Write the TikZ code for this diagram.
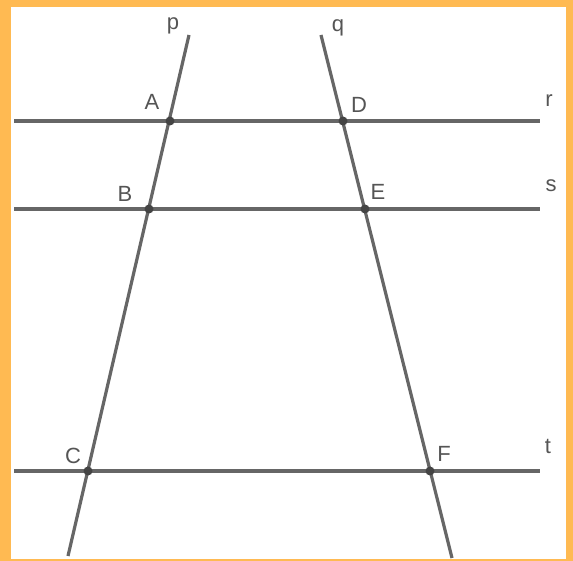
\documentclass[tikz,border=0pt]{standalone}
\usepackage{fontspec}
\setmainfont{Liberation Sans}
\definecolor{frameorange}{HTML}{FFBA52}
\definecolor{linegray}{HTML}{666666}
\definecolor{dotgray}{HTML}{444444}
\definecolor{labelgray}{HTML}{555555}
\begin{document}
\begin{tikzpicture}[
    x=1pt, y=-1pt,
    font=\fontsize{22}{26}\selectfont,
    line/.style={draw=linegray, line width=3.2pt},
    pt/.style={circle, fill=dotgray, inner sep=0pt, minimum size=9pt},
    lbl/.style={anchor=base, text=labelgray, inner sep=0pt}
]

    % 1. Orange frame
    \fill[frameorange] (0,0) rectangle (573,561);
    \fill[white] (11,7) rectangle (566,559);
    \useasboundingbox (0,0) rectangle (573,561);

    % 2. End points of the lines
    \coordinate (ptop) at (189,35);
    \coordinate (pbot) at (68,556);
    \coordinate (qtop) at (321,35);
    \coordinate (qbot) at (452,558);
    \coordinate (rl) at (14,121);
    \coordinate (rr) at (540,121);
    \coordinate (sl) at (14,209);
    \coordinate (sr) at (540,209);
    \coordinate (tl) at (14,471);
    \coordinate (tr) at (540,471);

    % 3. Lines
    \draw[line] (rl) -- (rr);
    \draw[line] (sl) -- (sr);
    \draw[line] (tl) -- (tr);
    \draw[line] (ptop) -- (pbot);
    \draw[line] (qtop) -- (qbot);

    % 4. Intersection points
    \node[pt] (A) at (170,121) {};
    \node[pt] (D) at (343,121) {};
    \node[pt] (B) at (149,209) {};
    \node[pt] (E) at (365,209) {};
    \node[pt] (C) at (88,471) {};
    \node[pt] (F) at (430,471) {};

    % 5. Labels
    \node[lbl] (lA) at (152,110) {A};
    \node[lbl] (lD) at (359,113) {D};
    \node[lbl] (lB) at (125,202) {B};
    \node[lbl] (lE) at (378,200) {E};
    \node[lbl] (lC) at (73,463) {C};
    \node[lbl] (lF) at (444,461) {F};
    \node[lbl] (lp) at (173,30) {p};
    \node[lbl] (lq) at (338,32) {q};
    \node[lbl] (lr) at (549,107) {r};
    \node[lbl] (ls) at (551,192) {s};
    \node[lbl] (lt) at (548,453) {t};

\end{tikzpicture}
\end{document}
